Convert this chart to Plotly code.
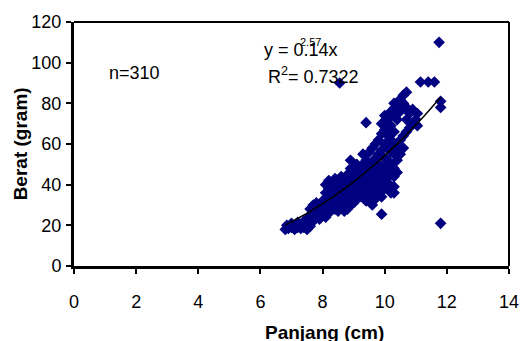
import plotly.graph_objects as go
import numpy as np

# Panjang (cm) values of each fish
panjang = [
    6.8, 6.85, 6.9, 7.0, 7.0, 7.1, 7.1, 7.2, 7.2, 7.3, 7.3, 7.4, 7.4, 7.5, 7.5, 7.5, 7.6, 7.6,
    7.6, 7.6, 7.7, 7.7, 7.7, 7.8, 7.8, 7.8, 7.9, 7.9, 7.9, 8.0, 8.0, 8.0, 8.1, 8.1, 8.1, 8.2, 8.2, 8.2,
    8.1, 8.1, 8.2, 8.2, 8.3, 8.3, 8.3, 8.3, 8.4, 8.4, 8.4, 8.4, 8.4, 8.5, 8.5, 8.5, 8.5, 8.5,
    8.6, 8.6, 8.6, 8.6, 8.6, 8.7, 8.7, 8.7, 8.7, 8.7, 8.8, 8.8, 8.8, 8.8, 8.8,
    8.9, 8.9, 8.9, 8.9, 8.9, 8.9, 9.0, 9.0, 9.0, 9.0, 9.0,
    9.1, 9.1, 9.1, 9.1, 9.1, 9.2, 9.2, 9.2, 9.2, 9.3, 9.3, 9.3, 9.3, 9.3,
    9.4, 9.4, 9.4, 9.4, 9.4, 9.5, 9.5, 9.5, 9.5, 9.5, 9.6, 9.6, 9.6, 9.6, 9.6, 9.6,
    9.7, 9.7, 9.7, 9.7, 9.7, 9.7, 9.8, 9.8, 9.8, 9.8, 9.8, 9.8, 9.9, 9.9, 9.9, 9.9, 9.9, 9.9, 9.9,
    10.0, 10.0, 10.0, 10.0, 10.0, 10.0, 10.0, 10.1, 10.1, 10.1, 10.1, 10.1, 10.1,
    10.2, 10.2, 10.2, 10.2, 10.2, 10.2, 10.2, 10.3, 10.3, 10.3, 10.3, 10.3, 10.3, 10.3, 10.3,
    10.4, 10.4, 10.4, 10.4, 10.4, 10.5, 10.5, 10.5, 10.5, 10.6, 10.6, 10.6, 10.6,
    10.7, 10.7, 10.7, 10.8, 10.8, 10.9, 10.9, 11.0, 11.05, 11.05,
    8.55, 9.4, 9.9, 10.3, 11.15, 11.4, 11.6, 11.75, 11.8, 11.8, 11.8, 10.7,
]
# Berat (gram) values of each fish
berat = [
    18, 20, 18.5, 19, 21, 18, 20, 19, 21.5, 18.5, 20.5, 19, 22, 18, 20, 23, 19.5, 21.5,
    25, 28, 22, 26, 30, 24, 27, 31, 23, 26, 29, 25, 28, 32, 24, 27, 30, 26, 29, 33,
    36, 40, 38, 42, 30, 34, 37, 41, 28, 32, 35, 39, 43, 27, 31, 34, 38, 42,
    29, 33, 36, 40, 44, 27, 31, 35, 39, 43, 28, 33, 37, 41, 45,
    30, 35, 39, 43, 48, 52, 31, 36, 40, 44, 47,
    33, 38, 42, 46, 50, 34, 39, 43, 48, 36, 40, 45, 50, 55,
    32, 37, 42, 47, 52, 35, 39, 44, 49, 56, 30, 37, 41, 46, 51, 58,
    33, 38, 43, 48, 53, 60, 36, 41, 45, 50, 55, 62, 34, 39, 44, 49, 57, 65, 70,
    38, 43, 48, 53, 60, 67, 74, 41, 46, 52, 58, 64, 72,
    36, 45, 50, 56, 62, 69, 76, 39, 44, 48, 55, 60, 66, 74, 80,
    46, 52, 58, 72, 78, 55, 62, 76, 82, 58, 64, 80, 84,
    66, 72, 78, 68, 75, 70, 77, 72, 69, 75,
    90, 70.5, 25.5, 36, 90.5, 90.5, 90.5, 110, 81, 78, 21, 85.5,
]

# Power trendline y = a * x^b (Excel-style fit shown on chart)
fit_a = 0.146
fit_b = 2.57
fit_x_range = [6.8, 11.8]

x_ticks = [0, 2, 4, 6, 8, 10, 12, 14]
y_ticks = [0, 20, 40, 60, 80, 100, 120]

FONT = "Liberation Sans, Arial, sans-serif"

fig = go.Figure()
fig.add_trace(go.Scatter(
    x=panjang, y=berat, mode="markers",
    marker=dict(symbol="diamond", size=9, color="#000080",
                line=dict(color="#000080", width=0)),
    showlegend=False, hoverinfo="skip",
))

fx = np.linspace(fit_x_range[0], fit_x_range[1], 60)
fig.add_trace(go.Scatter(
    x=fx, y=fit_a * fx ** fit_b, mode="lines",
    line=dict(color="black", width=1.5), showlegend=False, hoverinfo="skip",
))

L, R, T, B = 74, 19, 22, 75
W, H = 531, 341
pw, ph = W - L - R, H - T - B

def px(xp):
    return (xp - L) / pw

def py(yp):
    return (H - B - yp) / ph

fig.update_layout(
    width=W, height=H,
    margin=dict(l=L, r=R, t=T, b=B),
    paper_bgcolor="white", plot_bgcolor="white",
    font=dict(family=FONT, size=18, color="black"),
    xaxis=dict(range=[0, 14], tickvals=x_ticks, showgrid=False, zeroline=False,
               showline=True, linecolor="black", linewidth=3,
               ticks="outside", ticklen=5, tickwidth=2, tickcolor="black",
               ticklabelstandoff=12, tickfont=dict(size=18)),
    yaxis=dict(range=[0, 120], tickvals=y_ticks, showgrid=False, zeroline=False,
               showline=True, linecolor="black", linewidth=3,
               ticks="outside", ticklen=5, tickwidth=2, tickcolor="black",
               ticklabelstandoff=1, tickfont=dict(size=18)),
    shapes=[
        dict(type="line", xref="paper", yref="paper", x0=0, x1=1, y0=1, y1=1,
             line=dict(color="black", width=2)),
        dict(type="line", xref="paper", yref="paper", x0=1, x1=1, y0=0, y1=1,
             line=dict(color="black", width=2)),
    ],
    annotations=[
        dict(text="<b>Panjang (cm)</b>", xref="paper", yref="paper",
             x=px(326), y=py(332), xanchor="center", yanchor="middle",
             showarrow=False, font=dict(size=19)),
        dict(text="<b>Berat (gram)</b>", xref="paper", yref="paper",
             x=px(20), y=py(144), xanchor="center", yanchor="middle",
             textangle=-90, showarrow=False, font=dict(size=19)),
        dict(text="n=310", xref="paper", yref="paper",
             x=px(107), y=py(73), xanchor="left", yanchor="middle",
             showarrow=False, font=dict(size=18)),
        dict(text="y = 0.14x", xref="paper", yref="paper",
             x=px(263), y=py(50), xanchor="left", yanchor="middle",
             showarrow=False, font=dict(size=18)),
        dict(text="2.57", xref="paper", yref="paper",
             x=px(300), y=py(42), xanchor="left", yanchor="middle",
             showarrow=False, font=dict(size=11)),
        dict(text="R<sup>2</sup>= 0.7322", xref="paper", yref="paper",
             x=px(267), y=py(75), xanchor="left", yanchor="middle",
             showarrow=False, font=dict(size=18)),
    ],
)

fig.write_html("out.html")
